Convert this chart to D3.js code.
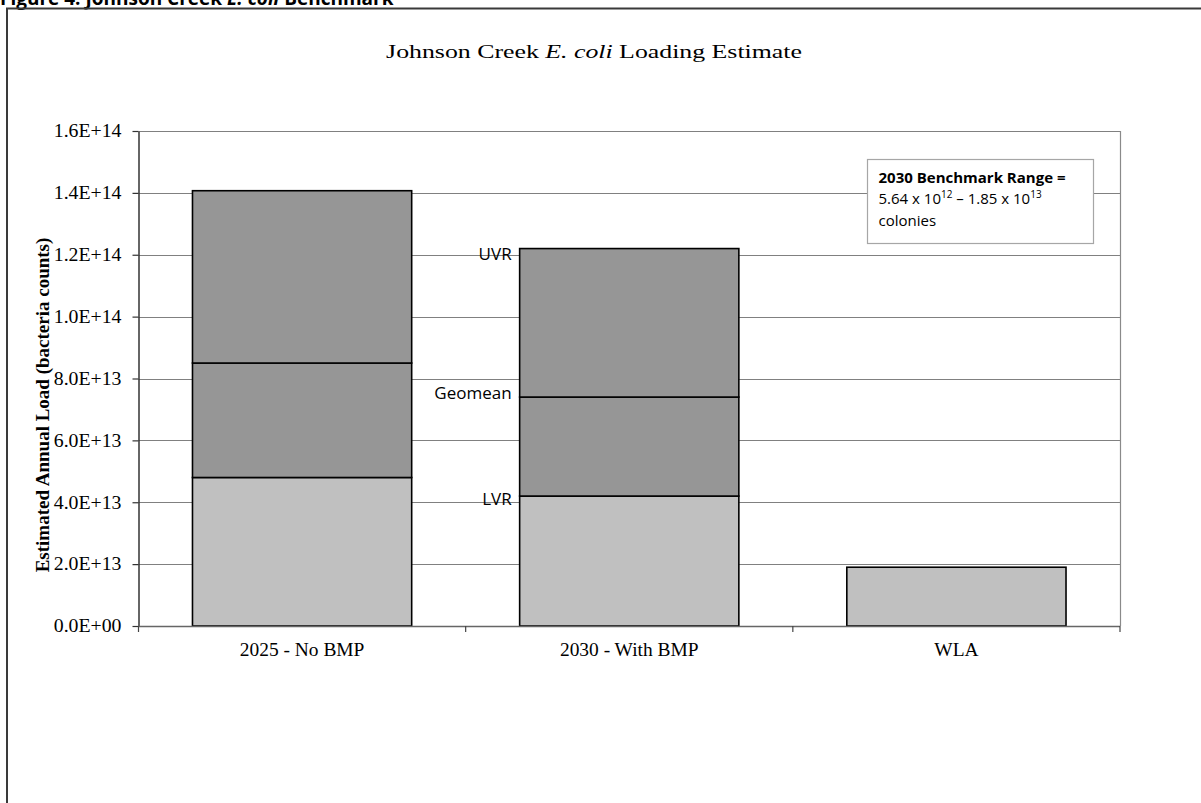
<!DOCTYPE html>
<html>
<head>
<meta charset="utf-8">
<script src="https://cdn.jsdelivr.net/npm/d3@7"></script>
<style>
  html, body { margin: 0; padding: 0; background: #fff; }
  svg { display: block; }
</style>
</head>
<body>
<svg id="chart" width="1201" height="803"></svg>
<script>
// Scenario categories and the three load statistics per scenario
const categories = ["2025 - No BMP", "2030 - With BMP", "WLA"];
const lvrValues = [4.8e13, 4.2e13, 1.9e13];      // lower value of range
const geomeanValues = [8.5e13, 7.4e13, null];    // geometric mean
const uvrValues = [1.407e14, 1.22e14, null];     // upper value of range
const yTicks = [0, 2e13, 4e13, 6e13, 8e13, 1e14, 1.2e14, 1.4e14, 1.6e14];
const yTickLabels = ["0.0E+00", "2.0E+13", "4.0E+13", "6.0E+13", "8.0E+13",
                     "1.0E+14", "1.2E+14", "1.4E+14", "1.6E+14"];

const svg = d3.select("#chart");
const serif = "'Liberation Serif', 'Times New Roman', serif";
const sans = "'Open Sans', 'Liberation Sans', sans-serif";

// Caption line above the frame (partly cut off at the top edge)
const cap = svg.append("text")
  .attr("x", 0).attr("y", 5)
  .attr("font-family", sans).attr("font-weight", "bold").attr("font-size", 19)
  .attr("fill", "#000");
cap.append("tspan").text("Figure 4: Johnson Creek ");
cap.append("tspan").attr("font-style", "italic").text("E. coli");
cap.append("tspan").text(" Benchmark");

// Outer chart frame
svg.append("path")
  .attr("d", "M7,803 V8.5 H1201")
  .attr("fill", "none").attr("stroke", "#3a3a3a").attr("stroke-width", 2);

const plot = { left: 138.5, right: 1120, top: 131, bottom: 626 };

const x = d3.scaleBand()
  .domain(categories)
  .range([plot.left, plot.right])
  .paddingInner(0.33).paddingOuter(0.165);

const y = d3.scaleLinear()
  .domain([0, 1.6e14])
  .range([plot.bottom, plot.top]);

// Horizontal gridlines
svg.append("g").selectAll("line")
  .data(yTicks.slice(1))
  .join("line")
  .attr("x1", plot.left).attr("x2", plot.right)
  .attr("y1", d => Math.round(y(d)) + 0.5).attr("y2", d => Math.round(y(d)) + 0.5)
  .attr("stroke", "#808080").attr("stroke-width", 1.2);

// Right border of the plot area
svg.append("line")
  .attr("x1", plot.right + 0.5).attr("x2", plot.right + 0.5)
  .attr("y1", plot.top).attr("y2", plot.bottom)
  .attr("stroke", "#8a8a8a").attr("stroke-width", 1.2);

// Stacked segments: [0, LVR], [LVR, Geomean], [Geomean, UVR]
const segments = [];
categories.forEach((c, i) => {
  segments.push({ cat: c, y0: 0, y1: lvrValues[i], fill: "#c0c0c0" });
  if (geomeanValues[i] != null) {
    segments.push({ cat: c, y0: lvrValues[i], y1: geomeanValues[i], fill: "#969696" });
    segments.push({ cat: c, y0: geomeanValues[i], y1: uvrValues[i], fill: "#969696" });
  }
});

svg.append("g").selectAll("rect")
  .data(segments)
  .join("rect")
  .attr("x", d => x(d.cat))
  .attr("width", x.bandwidth())
  .attr("y", d => y(d.y1))
  .attr("height", d => y(d.y0) - y(d.y1))
  .attr("fill", d => d.fill)
  .attr("stroke", "#000").attr("stroke-width", 1.6);

// Y axis (tick labels are drawn slightly widened)
const yLabelStretch = 1.1;
const yAxis = d3.axisLeft(y)
  .tickValues(yTicks)
  .tickFormat((d, i) => yTickLabels[i])
  .tickSizeOuter(0).tickSizeInner(6).tickPadding(12);
const gy = svg.append("g")
  .attr("transform", `translate(${plot.left},0)`)
  .call(yAxis);
gy.select(".domain").attr("stroke", "#333").attr("stroke-width", 1.5);
gy.selectAll(".tick line").attr("stroke", "#333").attr("stroke-width", 1.2);
gy.selectAll(".tick text")
  .attr("x", -17 / yLabelStretch)
  .attr("transform", `scale(${yLabelStretch},1)`)
  .attr("font-family", serif).attr("font-size", 18).attr("fill", "#000");

// X axis with ticks between categories
const boundaries = d3.range(categories.length + 1)
  .map(i => plot.left + i * (plot.right - plot.left) / categories.length);
const gx = svg.append("g");
gx.append("line")
  .attr("x1", plot.left).attr("x2", plot.right)
  .attr("y1", plot.bottom + 0.5).attr("y2", plot.bottom + 0.5)
  .attr("stroke", "#666").attr("stroke-width", 1.5);
gx.selectAll("line.tk")
  .data(boundaries)
  .join("line").attr("class", "tk")
  .attr("x1", d => d).attr("x2", d => d)
  .attr("y1", plot.bottom).attr("y2", plot.bottom + 6)
  .attr("stroke", "#444").attr("stroke-width", 1.2);
gx.selectAll("text")
  .data(categories)
  .join("text")
  .attr("transform", d => `translate(${x(d) + x.bandwidth() / 2},${plot.bottom + 30}) scale(1.08,1)`)
  .attr("text-anchor", "middle")
  .attr("font-family", serif).attr("font-size", 18).attr("fill", "#000")
  .text(d => d);

// Axis title
svg.append("text")
  .attr("transform", `translate(49,405) rotate(-90)`)
  .attr("text-anchor", "middle")
  .attr("font-family", serif).attr("font-weight", "bold").attr("font-size", 19)
  .attr("fill", "#000")
  .text("Estimated Annual Load (bacteria counts)");

// Chart title
const title = svg.append("text")
  .attr("transform", "translate(594,58) scale(1.36,1)")
  .attr("text-anchor", "middle")
  .attr("font-family", serif).attr("font-size", 19).attr("fill", "#000");
title.append("tspan").text("Johnson Creek ");
title.append("tspan").attr("font-style", "italic").text("E. coli");
title.append("tspan").text(" Loading Estimate");

// Statistic labels beside the 2030 bar
const labelCat = categories[1];
const statLabels = [
  { text: "UVR", value: uvrValues[1], dy: 11 },
  { text: "Geomean", value: geomeanValues[1], dy: 2 },
  { text: "LVR", value: lvrValues[1], dy: 9 }
];
svg.append("g").selectAll("text")
  .data(statLabels)
  .join("text")
  .attr("x", x(labelCat) - 8)
  .attr("y", d => y(d.value) + d.dy)
  .attr("text-anchor", "end")
  .attr("font-family", sans).attr("font-size", 17).attr("fill", "#000")
  .text(d => d.text);

// Benchmark range note
const box = svg.append("g").attr("transform", "translate(867.5,159.5)");
box.append("rect")
  .attr("width", 226).attr("height", 84)
  .attr("fill", "#fff").attr("stroke", "#a6a6a6").attr("stroke-width", 1.2);
box.append("text")
  .attr("x", 11).attr("y", 23)
  .attr("font-family", sans).attr("font-weight", "bold").attr("font-size", 15)
  .text("2030 Benchmark Range =");
const line2 = box.append("text")
  .attr("x", 11).attr("y", 44)
  .attr("font-family", sans).attr("font-size", 15);
line2.append("tspan").text("5.64 x 10");
line2.append("tspan").attr("font-size", 10).attr("dy", -6).text("12");
line2.append("tspan").attr("dy", 6).text(" \u2013 1.85 x 10");
line2.append("tspan").attr("font-size", 10).attr("dy", -6).text("13");
box.append("text")
  .attr("x", 11).attr("y", 66)
  .attr("font-family", sans).attr("font-size", 15)
  .text("colonies");
</script>
</body>
</html>
